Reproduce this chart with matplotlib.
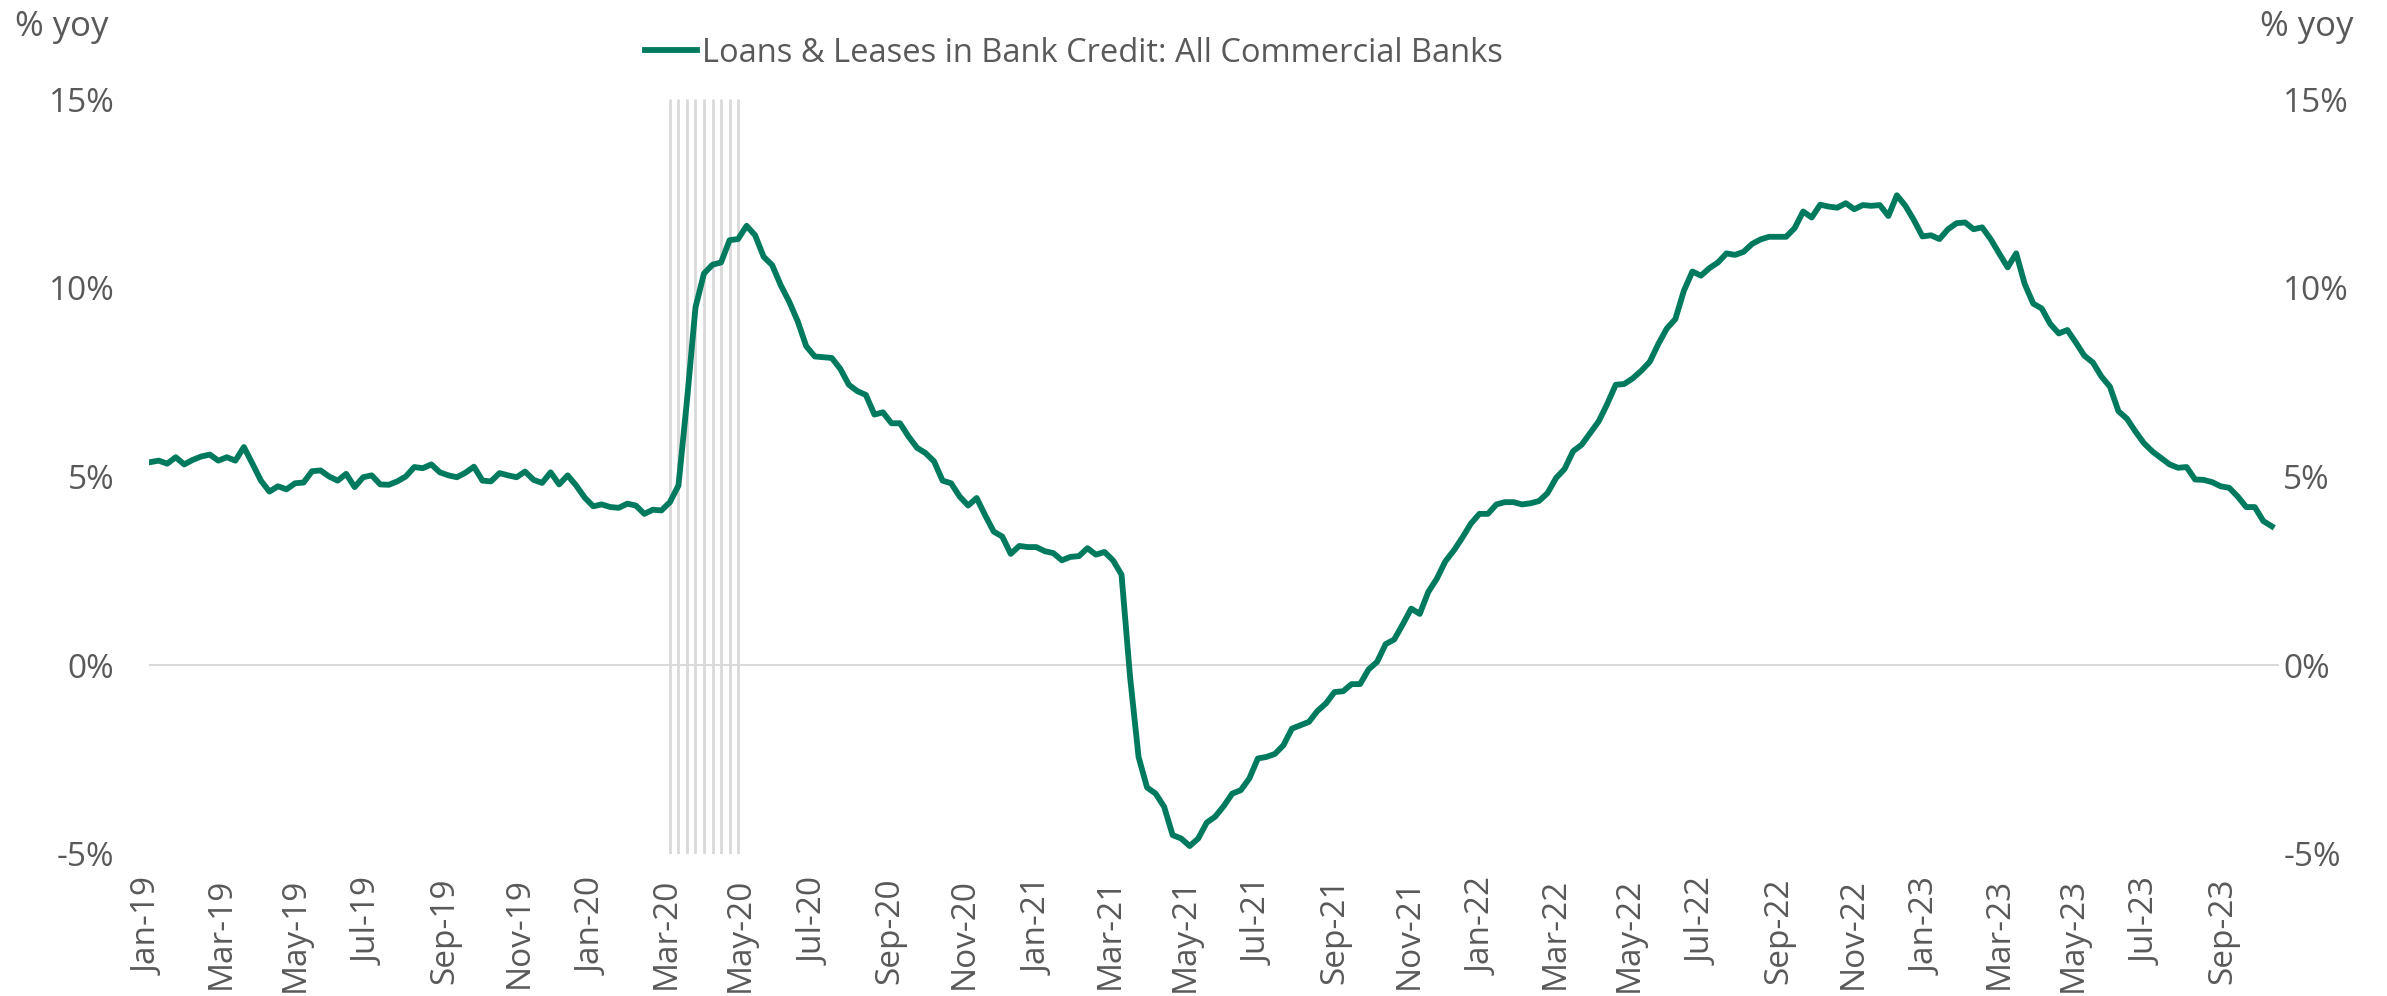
import pandas as pd
import numpy as np
import matplotlib
matplotlib.use("Agg")
import matplotlib.pyplot as plt
import matplotlib.dates as mdates
from matplotlib.ticker import FuncFormatter

plt.rcParams['font.family'] = ['Open Sans', 'DejaVu Sans']

# --- Data: weekly % yoy, first observation 2 Jan 2019 ---
start_date = "2019-01-02"
loans_yoy = [
    # 2019
    5.38, 5.42, 5.34, 5.51, 5.32, 5.44, 5.53, 5.58, 5.42, 5.51, 5.42, 5.78, 5.34,
    4.89, 4.60, 4.74, 4.66, 4.82, 4.84, 5.14, 5.16, 5.00, 4.89, 5.07, 4.72, 4.98,
    5.03, 4.79, 4.78, 4.87, 5.00, 5.25, 5.22, 5.32, 5.11, 5.03, 4.98, 5.10, 5.26,
    4.89, 4.87, 5.09, 5.03, 4.98, 5.13, 4.91, 4.83, 5.11, 4.79, 5.03, 4.76,
    # 2020
    4.44, 4.21, 4.26, 4.19, 4.17, 4.28, 4.23, 4.01, 4.12, 4.10, 4.32, 4.76, 7.01,
    9.48, 10.38, 10.61, 10.67, 11.26, 11.29, 11.64, 11.39, 10.82, 10.60, 10.07,
    9.63, 9.11, 8.45, 8.18, 8.16, 8.14, 7.85, 7.43, 7.26, 7.16, 6.64, 6.70, 6.41,
    6.41, 6.06, 5.76, 5.62, 5.40, 4.89, 4.82, 4.47, 4.23, 4.43, 3.97, 3.54,
    # 2021
    3.41, 2.95, 3.16, 3.13, 3.13, 3.02, 2.97, 2.78, 2.87, 2.89, 3.10, 2.93, 3.00,
    2.78, 2.40, -0.30, -2.43, -3.24, -3.40, -3.75, -4.50, -4.59, -4.79, -4.59,
    -4.17, -4.01, -3.73, -3.40, -3.31, -3.00, -2.47, -2.43, -2.35, -2.12, -1.68,
    -1.59, -1.50, -1.21, -1.01, -0.71, -0.69, -0.50, -0.50, -0.11, 0.09, 0.56,
    0.68, 1.08, 1.50, 1.36,
    # 2022
    1.94, 2.29, 2.75, 3.04, 3.38, 3.75, 4.01, 4.01, 4.26, 4.32, 4.32, 4.26, 4.29,
    4.35, 4.56, 4.96, 5.20, 5.67, 5.84, 6.15, 6.46, 6.92, 7.43, 7.45, 7.60, 7.80,
    8.04, 8.51, 8.92, 9.17, 9.92, 10.43, 10.32, 10.52, 10.67, 10.91, 10.87, 10.95,
    11.16, 11.28, 11.35, 11.35, 11.35, 11.58, 12.02, 11.86, 12.20, 12.15,
    # 2023
    12.12, 12.24, 12.08, 12.19, 12.17, 12.19, 11.90, 12.45, 12.17, 11.79, 11.36,
    11.39, 11.29, 11.55, 11.71, 11.73, 11.55, 11.60, 11.29, 10.91, 10.54, 10.91,
    10.10, 9.58, 9.45, 9.04, 8.79, 8.88, 8.55, 8.20, 8.02, 7.65, 7.38, 6.73, 6.53,
    6.19, 5.88, 5.66, 5.49, 5.32, 5.23, 5.25, 4.92, 4.91, 4.85, 4.74, 4.70, 4.47,
    4.19, 4.19, 3.82, 3.68,
]
recession_weeks = ["2020-03-04", "2020-03-11", "2020-03-18", "2020-03-25", "2020-04-01",
                   "2020-04-08", "2020-04-15", "2020-04-22", "2020-04-29"]
y_ticks = [-5, 0, 5, 10, 15]
series_label = "Loans & Leases in Bank Credit: All Commercial Banks"
axis_unit = "% yoy"

dates = pd.date_range(start_date, periods=len(loans_yoy), freq="7D")
rec_dates = pd.to_datetime(recession_weeks)

green = "#007A5E"
grey_txt = "#595959"
grey_line = "#D9D9D9"

# --- Figure ---
fig = plt.figure(figsize=(23.87, 9.96), dpi=100)
ax = fig.add_axes([0.0624, 0.1426, 0.8924, 0.758])

ax.vlines(rec_dates, -5, 15, color=grey_line, linewidth=2.0, zorder=1)
ax.axhline(0, color=grey_line, linewidth=1.4, zorder=1)
line, = ax.plot(dates, loans_yoy, color=green, linewidth=4.2, label=series_label,
                zorder=3)

ax.set_ylim(-5, 15)
ax.set_xlim(pd.Timestamp("2019-01-01"), pd.Timestamp("2023-10-17"))
ax.set_yticks(y_ticks)
pct = FuncFormatter(lambda v, p: f"{v:.0f}%")
ax.yaxis.set_major_formatter(pct)

ax.set_xticks(pd.date_range("2019-01-01", "2023-09-01", freq="2MS"))
ax.xaxis.set_major_formatter(mdates.DateFormatter("%b-%y"))
for lbl in ax.get_xticklabels():
    lbl.set_rotation(90)

ax.tick_params(axis="x", length=0, pad=17, labelsize=24, labelcolor=grey_txt)
ax.tick_params(axis="y", length=0, pad=25, labelsize=24, labelcolor=grey_txt)
for s in ax.spines.values():
    s.set_visible(False)

ax2 = ax.twinx()
ax2.set_ylim(ax.get_ylim())
ax2.set_yticks(y_ticks)
ax2.yaxis.set_major_formatter(pct)
ax2.tick_params(axis="y", length=0, pad=3, labelsize=24, labelcolor=grey_txt)
for s in ax2.spines.values():
    s.set_visible(False)

fig.text(15 / 2387, 1 - 27 / 996, axis_unit, fontsize=25, color=grey_txt, va="center", ha="left")
fig.text(2260 / 2387, 1 - 27 / 996, axis_unit, fontsize=25, color=grey_txt, va="center", ha="left")

fig.legend(handles=[line], loc="center left", bbox_to_anchor=(645 / 2387, 1 - 53 / 996),
           frameon=False, fontsize=23.5, labelcolor=grey_txt, handlelength=1.6,
           handletextpad=0.15, borderpad=0, borderaxespad=0)

fig.savefig("out.png", dpi=100)
